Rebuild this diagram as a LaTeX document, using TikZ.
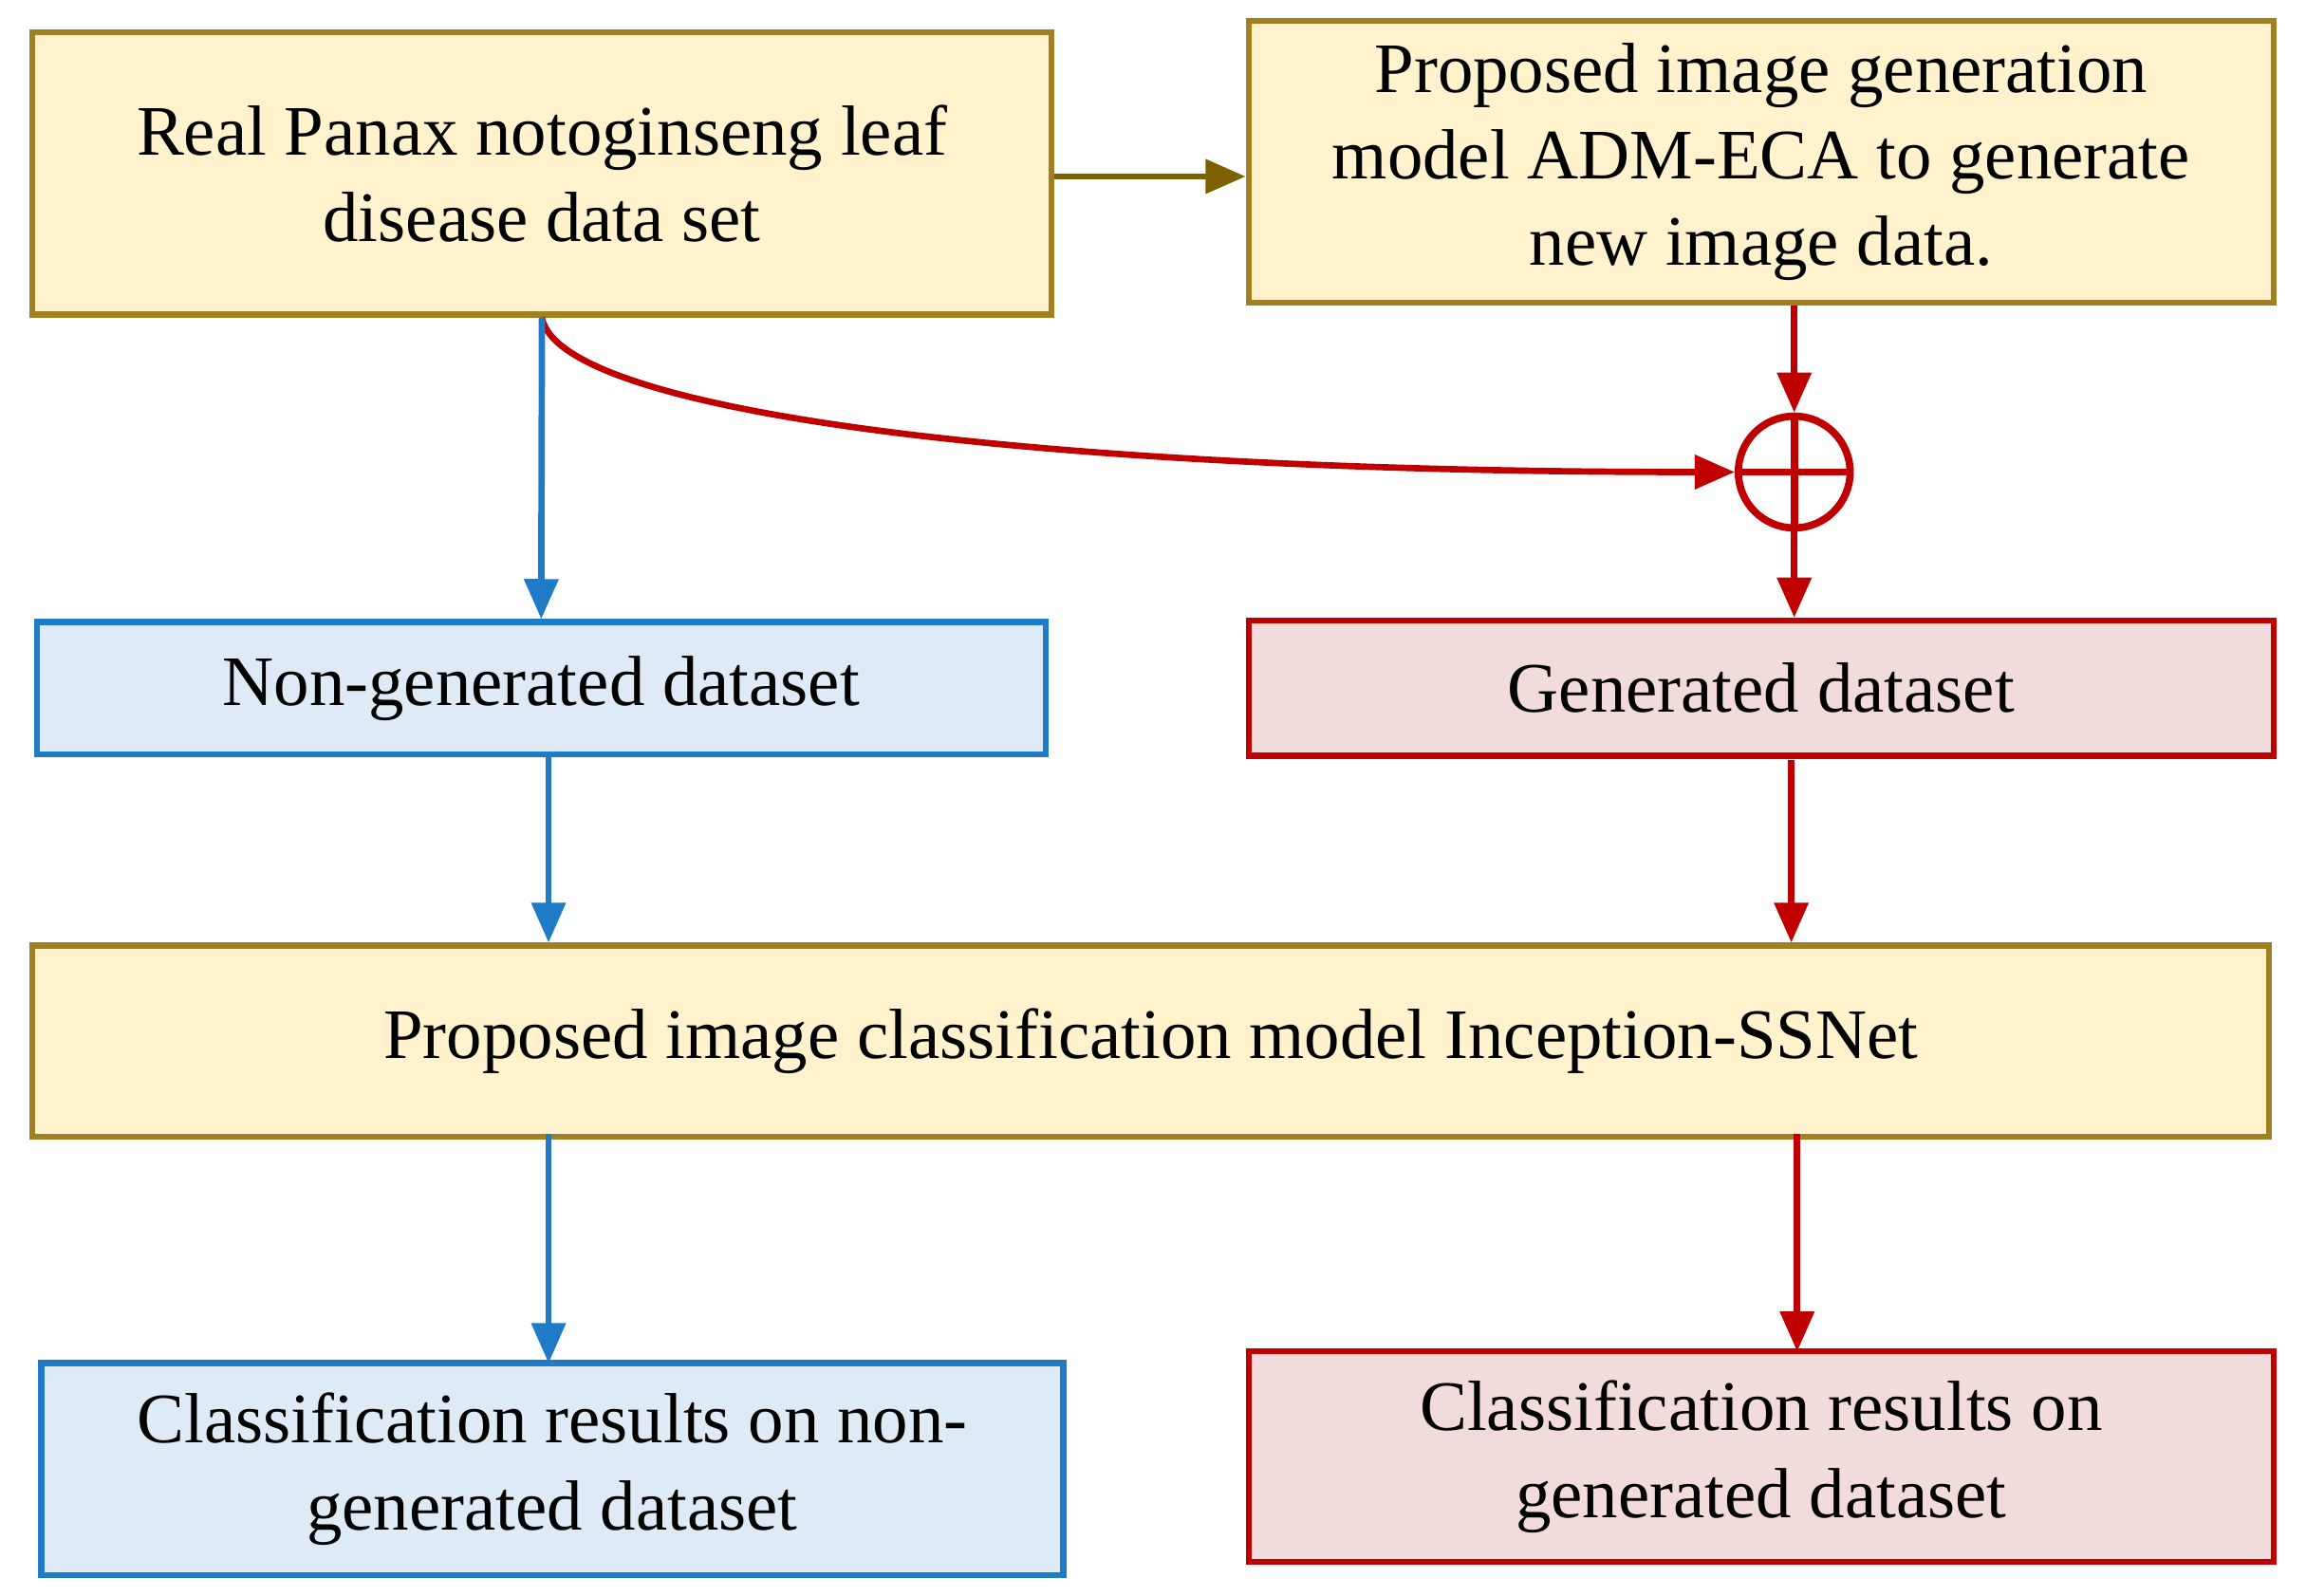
\documentclass[tikz,border=0pt]{standalone}
\usepackage{fontspec}
\setmainfont{Liberation Serif}
\usetikzlibrary{arrows.meta,calc}
\definecolor{yfill}{HTML}{FFF2CC}
\definecolor{ydraw}{HTML}{A08020}
\definecolor{bfill}{HTML}{DEEAF6}
\definecolor{bdraw}{HTML}{1F7BC8}
\definecolor{rfill}{HTML}{F2DCDB}
\definecolor{rdraw}{HTML}{C00000}
\definecolor{brn}{HTML}{7F6000}
\begin{document}
\begin{tikzpicture}[x=0.0155cm,y=-0.0155cm,
 box/.style={draw,line width=1.8pt,align=center,inner sep=0pt,font=\fontsize{21.3}{26}\selectfont},
 ybox/.style={box,fill=yfill,draw=ydraw},
 bbox/.style={box,fill=bfill,draw=bdraw},
 rbox/.style={box,fill=rfill,draw=rdraw},
 arr/.style={line width=1.9pt,-{Triangle[length=12pt,width=10pt]}},
 barr/.style={arr,draw=bdraw},
 rarr/.style={arr,draw=rdraw}]
\useasboundingbox (0,0) rectangle (1568,1085);
\node[ybox,minimum width=693*0.0155cm,minimum height=192*0.0155cm] (b1) at (368.5,118) {Real Panax notoginseng leaf\\disease data set};
\node[ybox,minimum width=697*0.0155cm,minimum height=192*0.0155cm] (b2) at (1197.5,110) {Proposed image generation\\model ADM-ECA to generate\\new image data.};
\node[draw=rdraw,line width=2.2pt,circle,minimum size=76*0.0155cm,inner sep=0pt,
 path picture={\draw[rdraw,line width=2.2pt] (path picture bounding box.north)--(path picture bounding box.south) (path picture bounding box.west)--(path picture bounding box.east);}] (plus) at (1220,321) {};
\node[bbox,minimum width=686*0.0155cm,minimum height=90*0.0155cm] (b3) at (368,468) {Non-generated dataset};
\node[rbox,minimum width=697*0.0155cm,minimum height=92*0.0155cm] (b4) at (1197.5,468) {Generated dataset};
\node[ybox,minimum width=1521*0.0155cm,minimum height=130*0.0155cm] (b5) at (782.5,708) {Proposed image classification model Inception-SSNet};
\node[bbox,minimum width=695*0.0155cm,minimum height=144*0.0155cm] (b6) at (375.5,999) {Classification results on non-\\generated dataset};
\node[rbox,minimum width=697*0.0155cm,minimum height=143*0.0155cm] (b7) at (1197.5,990.5) {Classification results on\\generated dataset};
\path (b1.south) ++(0,0) coordinate (dummy);
\draw[arr,draw=brn] (b1.east|-0,120) -- (b2.west|-0,120);
\draw[rarr] (plus|-b2.south) -- (plus.north);
\draw[rarr] (b1.south) .. controls (380,280) and (700,321) .. (plus.west);
\draw[rarr] (plus.south) -- (plus|-b4.north);
\draw[barr] (b1.south) -- (b3.north);
\draw[barr] (373,513) -- (373,641);
\draw[rarr] (1218,517) -- (1218,641);
\draw[barr] (373,771) -- (373,927);
\draw[rarr] (1222,771) -- (1222,919);
\end{tikzpicture}
\end{document}
